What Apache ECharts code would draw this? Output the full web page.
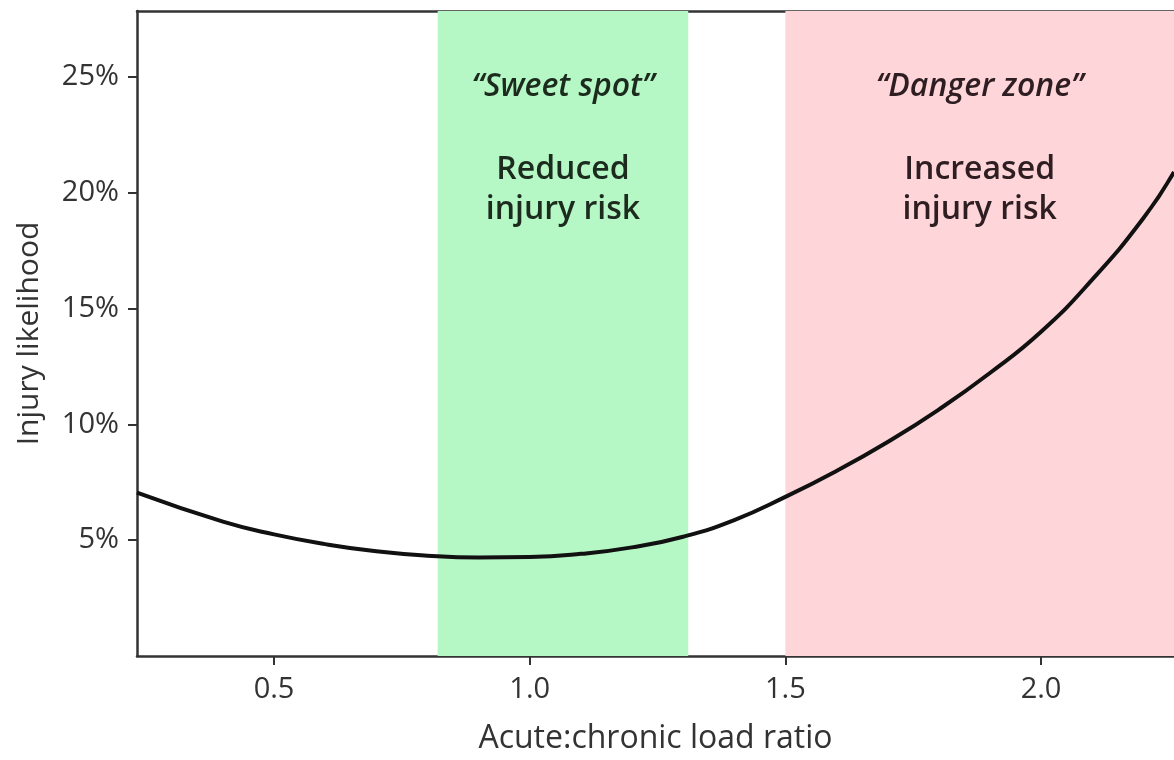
<!DOCTYPE html>
<html>
<head>
<meta charset="utf-8">
<script src="https://cdn.jsdelivr.net/npm/echarts@6/dist/echarts.min.js"></script>
<style>
html,body{margin:0;padding:0;background:#fff;}
#chart{width:1174px;height:760px;}
</style>
</head>
<body>
<div id="chart"></div>
<script>
// Data
const ratio = [0.232, 0.4, 0.5, 0.6, 0.7, 0.8, 0.9, 1.0, 1.1, 1.2, 1.3, 1.4, 1.5, 1.6, 1.7, 1.8, 1.9, 2.0, 2.1, 2.2, 2.26];
const likelihood = [7.05, 5.8, 5.25, 4.83, 4.52, 4.33, 4.25, 4.27, 4.41, 4.69, 5.15, 5.87, 6.87, 7.99, 9.24, 10.64, 12.22, 14.0, 16.25, 18.9, 20.9];
const xTicks = [0.5, 1.0, 1.5, 2.0];
const yTicks = [5, 10, 15, 20, 25];
const xRange = [0.232, 2.26];
const yRange = [0, 27.85];
const sweetSpot = [0.82, 1.31];
const dangerZone = [1.5, 2.26];
const zoneTitles = ['\u201CSweet spot\u201D', '\u201CDanger zone\u201D'];
const zoneTexts = [['Reduced', 'injury risk'], ['Increased', 'injury risk']];
const xName = 'Acute:chronic load ratio';
const yName = 'Injury likelihood';

const FONT = "'Open Sans', 'Noto Sans', sans-serif";
const axisColor = '#333';

function zoneLabel(i, color) {
  return {
    show: true,
    position: 'insideTop',
    distance: 54,
    formatter: '{a|' + zoneTitles[i] + '}\n{s| }\n{b|' + zoneTexts[i][0] + '}\n{b|' + zoneTexts[i][1] + '}',
    rich: {
      a: {fontFamily: FONT, fontSize: 32, fontStyle: 'italic', fontWeight: 600, color: color, lineHeight: 44, align: 'center'},
      s: {fontSize: 10, lineHeight: 41},
      b: {fontFamily: FONT, fontSize: 32, fontWeight: 600, color: color, lineHeight: 40, align: 'center'}
    }
  };
}

const chart = echarts.init(document.getElementById('chart'), null, {renderer: 'canvas'});
chart.setOption({
  animation: false,
  backgroundColor: '#fff',
  grid: {left: 137, top: 11, right: 0, bottom: 97, containLabel: false},
  xAxis: [{
    type: 'value',
    min: xRange[0], max: xRange[1],
    name: xName,
    nameLocation: 'middle',
    nameGap: 67,
    nameTextStyle: {fontFamily: FONT, fontSize: 32, color: axisColor},
    axisLine: {show: true, onZero: false, lineStyle: {color: axisColor, width: 2.5}},
    axisTick: {show: true, length: 9, customValues: xTicks, lineStyle: {color: axisColor, width: 2}},
    axisLabel: {show: true, customValues: xTicks, margin: 19, fontFamily: FONT, fontSize: 29, color: axisColor,
      formatter: v => Number(v).toFixed(1)},
    splitLine: {show: false}
  }, {
    type: 'value', position: 'top',
    min: xRange[0], max: xRange[1],
    axisLine: {show: true, onZero: false, lineStyle: {color: axisColor, width: 2.5}},
    axisTick: {show: false}, axisLabel: {show: false}, splitLine: {show: false}
  }],
  yAxis: {
    type: 'value',
    min: yRange[0], max: yRange[1],
    name: yName,
    nameLocation: 'middle',
    nameGap: 93,
    nameRotate: 90,
    nameTextStyle: {fontFamily: FONT, fontSize: 30, color: axisColor},
    axisLine: {show: true, onZero: false, lineStyle: {color: axisColor, width: 2.5}},
    axisTick: {show: true, length: 9, customValues: yTicks, lineStyle: {color: axisColor, width: 2}},
    axisLabel: {show: true, customValues: yTicks, margin: 18, fontFamily: FONT, fontSize: 29, color: axisColor,
      formatter: v => Math.round(v) + '%'},
    splitLine: {show: false}
  },
  series: [{
    type: 'line',
    xAxisIndex: 0,
    data: ratio.map((r, i) => [r, likelihood[i]]),
    smooth: 0.5,
    symbol: 'none',
    lineStyle: {color: '#111', width: 4},
    z: 5,
    markArea: {
      silent: true,
      data: [
        [{xAxis: sweetSpot[0], itemStyle: {color: '#b6f8c5'}, label: zoneLabel(0, '#1c2b1e')}, {xAxis: sweetSpot[1]}],
        [{xAxis: dangerZone[0], itemStyle: {color: '#fed6da'}, label: zoneLabel(1, '#2e1e22')}, {xAxis: dangerZone[1]}]
      ]
    }
  }]
});
</script>
</body>
</html>
